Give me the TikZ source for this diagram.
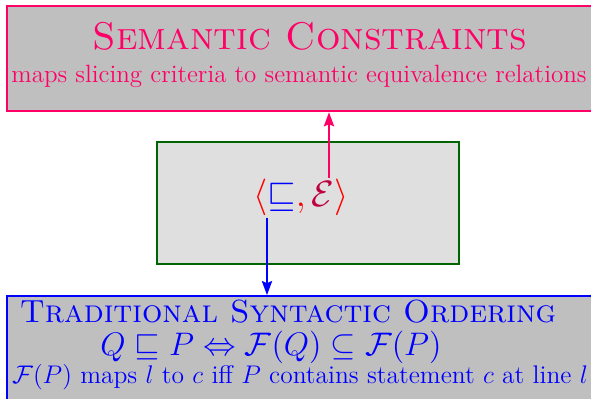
\RequirePackage{fix-cm}
\documentclass[tikz,border=0pt]{standalone}
\usepackage{amsmath,amssymb}
\usepackage{xcolor}
\usetikzlibrary{arrows.meta,calc,positioning}
\definecolor{semcol}{RGB}{255,0,102}
\definecolor{ctxgreen}{RGB}{0,100,0}

\begin{document}
\begin{tikzpicture}[x=0.5pt,y=0.5pt,>={Stealth[length=7pt,width=5pt,inset=1pt]},
    panel/.style={draw,fill=gray!50,inner sep=0pt},
    txt/.style={inner sep=0pt,anchor=base}]
    \useasboundingbox (0,0) rectangle (591,399);
    % the three boxes
    \node[panel,draw=semcol,line width=1.2pt,minimum width=296.5pt,minimum height=52.5pt] (sem) at (303.5,340.5) {};
    \node[panel,draw=ctxgreen,fill=gray!25,line width=1.4pt,minimum width=151pt,minimum height=61pt] (ctx) at (308,196) {};
    \node[panel,draw=blue,line width=0.8pt,minimum width=296.5pt,minimum height=57pt] (syn) at (303.5,46) {};
    % texts
    \node[txt,text=semcol] (semtitle) at (310,349)
      {\fontsize{19.3}{21}\selectfont\textsc{Semantic Constraints}};
    \node[txt,text=semcol] (semsub) at (299,316)
      {\fontsize{12.5}{14}\selectfont maps slicing criteria to semantic equivalence relations};
    \node[inner sep=0pt] (pair) at (301,202)
      {\fontsize{18.3}{21}\selectfont$\color{red}\langle{\color{blue}\sqsubseteq},{\color{purple}\mathcal{E}}\rangle$};
    \node[txt,text=blue] (syntitle) at (288,76)
      {\fontsize{16}{18}\selectfont\textsc{Traditional Syntactic Ordering}};
    \node[txt,text=blue] (synlaw) at (271,43)
      {\fontsize{16.3}{18}\selectfont$Q\sqsubseteq P\Leftrightarrow\mathcal{F}(Q)\subseteq\mathcal{F}(P)$};
    \node[txt,text=blue] (synmap) at (300,15)
      {\fontsize{12.75}{15}\selectfont$\mathcal{F}(P)$ maps $l$ to $c$ iff $P$ contains statement $c$ at line $l$};
    % links
    \coordinate (eqv) at (329,221);
    \coordinate (ord) at (267,181);
    \draw[->,semcol,line width=1.4pt] (eqv) -- (eqv |- sem.south);
    \draw[->,blue,line width=1.4pt] (ord) -- (ord |- syn.north);
\end{tikzpicture}
\end{document}
